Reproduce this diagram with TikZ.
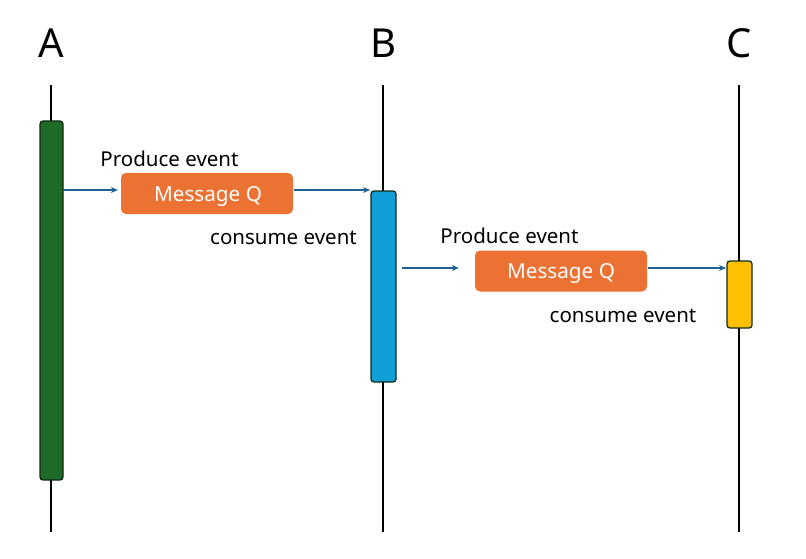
\documentclass[tikz,border=0pt]{standalone}
\usepackage{fontspec}
\setmainfont{Noto Sans}
\usetikzlibrary{arrows.meta}
\definecolor{actgreen}{HTML}{1E6B28}
\definecolor{actblue}{HTML}{109FD9}
\definecolor{actyellow}{HTML}{FFC000}
\definecolor{qorange}{HTML}{EC7234}
\definecolor{arrblue}{HTML}{1F6190}
\definecolor{edgedark}{HTML}{0F2A14}
\begin{document}
\begin{tikzpicture}[x=1pt,y=-1pt,
  lifeline/.style={line width=1.5pt,black},
  act/.style={draw=edgedark,line width=1.3pt,rounded corners=3pt,inner sep=0pt},
  queue/.style={fill=qorange,rounded corners=5pt,minimum width=172pt,minimum height=41pt,inner sep=0pt,text=white,font=\fontsize{20.7}{24}\selectfont},
  lbl/.style={font=\fontsize{20.5}{24}\selectfont,inner sep=0pt},
  title/.style={font=\fontsize{40}{44}\selectfont,inner sep=0pt},
  msg/.style={draw=arrblue,line width=1.3pt,-{Stealth[length=7pt,width=6pt]}}]
\useasboundingbox (0,0) rectangle (806,559);
\fill[white] (0,0) rectangle (806,559);
% titles
\node[title] (tA) at (51,43) {A};
\node[title] (tB) at (383,43) {B};
\node[title] (tC) at (739,43) {C};
% lifelines
\coordinate (a1) at (51,85); \coordinate (a2) at (51,532);
\coordinate (b1) at (383,85); \coordinate (b2) at (383,532);
\coordinate (c1) at (739,85); \coordinate (c2) at (739,532);
\draw[lifeline] (a1) -- (a2);
\draw[lifeline] (b1) -- (b2);
\draw[lifeline] (c1) -- (c2);
% activations
\draw[act,fill=actgreen] (40,121) rectangle (63,480);
\draw[act,fill=actblue] (371,191) rectangle (396,382);
\draw[act,fill=actyellow] (727,261) rectangle (752,328);
\coordinate (actA) at (63,190);
\coordinate (actBin) at (370,190);
\coordinate (actBout) at (402,268);
\coordinate (actCin) at (726,268);
% queues
\node[queue] (q1) at (207,193.5) {};
\node[queue] (q2) at (561,271) {};
\node[text=white,font=\fontsize{20.7}{24}\selectfont,inner sep=0pt] (q1t) at (208,196) {Message Q};
\node[text=white,font=\fontsize{20.7}{24}\selectfont,inner sep=0pt] (q2t) at (561,273.5) {Message Q};
% labels
\node[lbl] (p1) at (169.5,159) {Produce event};
\node[lbl] (c1l) at (283.5,238) {consume event};
\node[lbl] (p2) at (509.5,236) {Produce event};
\node[lbl] (c2l) at (623,316) {consume event};
% arrows
\draw[msg] (actA) -- ([xshift=-3pt]q1.west |- actA);
\draw[msg] ([xshift=1pt]q1.east |- actA) -- (actBin);
\draw[msg] (actBout) -- ([xshift=-16pt]q2.west |- actBout);
\draw[msg] ([xshift=1pt]q2.east |- actBout) -- (actCin);
\end{tikzpicture}
\end{document}
